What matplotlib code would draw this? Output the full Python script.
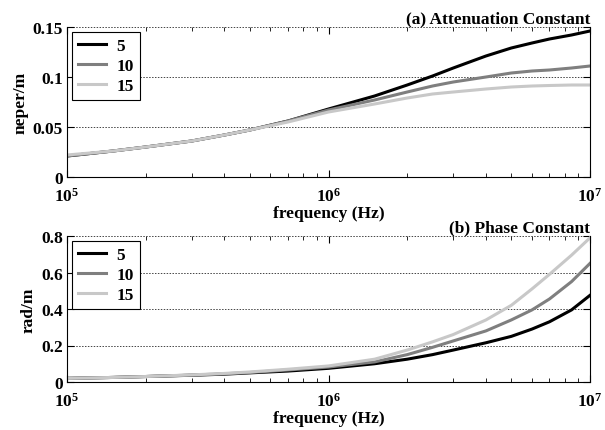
import math
import matplotlib
matplotlib.use("Agg")
import matplotlib.pyplot as plt
from matplotlib.ticker import FixedLocator, LogLocator, NullFormatter, FuncFormatter

plt.rcParams['font.family'] = ['Liberation Serif', 'DejaVu Serif']
plt.rcParams['font.weight'] = 'bold'
plt.rcParams['mathtext.fontset'] = 'custom'
plt.rcParams['mathtext.rm'] = 'Liberation Serif:bold'
plt.rcParams['mathtext.bf'] = 'Liberation Serif:bold'

# frequency samples (Hz)
freq = [1e5, 1.5e5, 2e5, 3e5, 4e5, 5e5, 7e5, 1e6, 1.5e6, 2e6, 2.5e6, 3e6,
        4e6, 5e6, 6e6, 7e6, 8.5e6, 1e7]
labels = ['5', '10', '15']
colors = ['#000000', '#7f7f7f', '#c8c8c8']

# (a) attenuation constant, neper/m
alpha_5 = [0.021, 0.026, 0.030, 0.036, 0.042, 0.047, 0.056, 0.068, 0.081, 0.092,
           0.101, 0.109, 0.121, 0.129, 0.134, 0.138, 0.142, 0.146]
alpha_10 = [0.021, 0.026, 0.030, 0.036, 0.042, 0.047, 0.056, 0.067, 0.077, 0.085,
            0.091, 0.095, 0.100, 0.104, 0.106, 0.107, 0.109, 0.111]
alpha_15 = [0.022, 0.026, 0.030, 0.036, 0.042, 0.047, 0.055, 0.065, 0.073, 0.079,
            0.083, 0.085, 0.088, 0.090, 0.091, 0.0915, 0.092, 0.092]

# (b) phase constant, rad/m
beta_5 = [0.020, 0.025, 0.030, 0.037, 0.043, 0.050, 0.060, 0.075, 0.100, 0.125,
          0.150, 0.175, 0.215, 0.250, 0.290, 0.330, 0.395, 0.475]
beta_10 = [0.020, 0.025, 0.030, 0.038, 0.045, 0.052, 0.066, 0.082, 0.110, 0.150,
           0.190, 0.225, 0.280, 0.340, 0.395, 0.455, 0.550, 0.650]
beta_15 = [0.020, 0.025, 0.030, 0.039, 0.047, 0.055, 0.070, 0.088, 0.125, 0.175,
           0.220, 0.260, 0.340, 0.420, 0.510, 0.590, 0.695, 0.790]

W, H = 605, 431
fig = plt.figure(figsize=(W / 100, H / 100), dpi=100)
ax1 = fig.add_axes([67 / W, 1 - 178 / H, 523 / W, 150 / H])
ax2 = fig.add_axes([67 / W, 1 - 383 / H, 523 / W, 146 / H])


def sci(x, pos):
    return r'$\mathbf{10^{%d}}$' % round(math.log10(x))


def style(ax, ymax, yticks, ylabel, title):
    ax.set_xscale('log')
    ax.set_xlim(1e5, 1e7)
    ax.set_ylim(0, ymax)
    ax.yaxis.set_major_locator(FixedLocator(yticks))
    ax.xaxis.set_major_locator(FixedLocator([1e5, 1e6, 1e7]))
    ax.xaxis.set_minor_locator(LogLocator(base=10, subs=range(2, 10)))
    ax.xaxis.set_minor_formatter(NullFormatter())
    ax.xaxis.set_major_formatter(FuncFormatter(sci))
    ax.yaxis.set_major_formatter(FuncFormatter(lambda v, p: '%g' % v))
    ax.tick_params(which='both', direction='in', top=True, right=True, labelsize=12.5)
    ax.tick_params(which='major', length=5, width=0.8)
    ax.tick_params(which='minor', length=3, width=0.6)
    ax.tick_params(axis='x', pad=7)
    ax.tick_params(axis='y', pad=3)
    ax.grid(True, axis='y', linestyle=(0, (1.5, 1.5)), color='#444444', linewidth=0.7)
    ax.spines['top'].set_visible(False)
    ax.set_ylabel(ylabel, fontsize=12.5, fontweight='bold', labelpad=3)
    ax.set_xlabel('frequency (Hz)', fontsize=12.5, fontweight='bold', labelpad=0)
    ax.set_title(title, loc='right', fontsize=12.5, fontweight='bold', pad=3)
    leg = ax.legend(loc='upper left', handlelength=1.6, fancybox=False,
                    edgecolor='black', framealpha=1, borderaxespad=0.3,
                    labelspacing=0.22, handletextpad=0.6, borderpad=0.35,
                    prop={'weight': 'bold', 'size': 12.5})
    leg.get_frame().set_linewidth(0.8)


for ys, lab, c in zip([alpha_5, alpha_10, alpha_15], labels, colors):
    ax1.plot(freq, ys, color=c, lw=2.2, label=lab)
for ys, lab, c in zip([beta_5, beta_10, beta_15], labels, colors):
    ax2.plot(freq, ys, color=c, lw=2.2, label=lab)

style(ax1, 0.15, [0, 0.05, 0.1, 0.15], 'neper/m', '(a) Attenuation Constant')
style(ax2, 0.8, [0, 0.2, 0.4, 0.6, 0.8], 'rad/m', '(b) Phase Constant')

fig.savefig('out.png', dpi=100)
